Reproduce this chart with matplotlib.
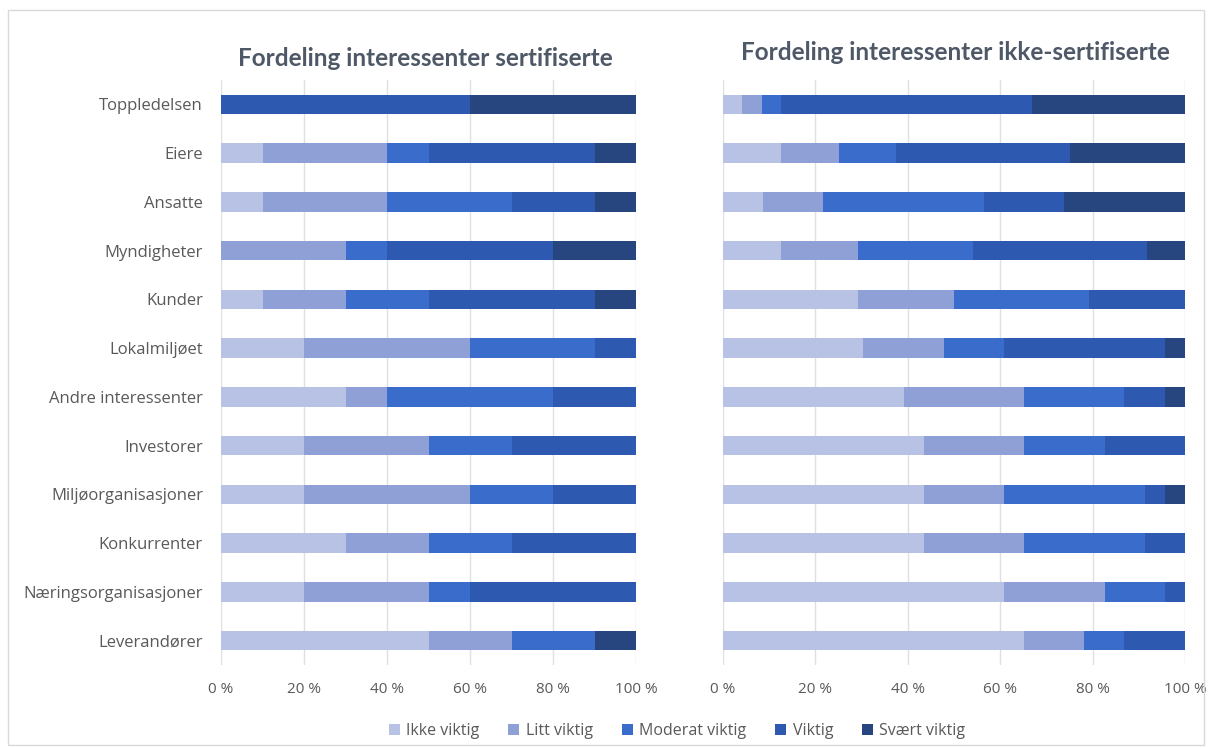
import matplotlib
matplotlib.use("Agg")
import matplotlib.pyplot as plt
from matplotlib.patches import Rectangle, Patch
from matplotlib.ticker import FuncFormatter

plt.rcParams['font.family'] = ['Open Sans', 'DejaVu Sans']

categories = [
    "Toppledelsen", "Eiere", "Ansatte", "Myndigheter", "Kunder", "Lokalmiljøet",
    "Andre interessenter", "Investorer", "Miljøorganisasjoner", "Konkurrenter",
    "Næringsorganisasjoner", "Leverandører",
]
levels = ["Ikke viktig", "Litt viktig", "Moderat viktig", "Viktig", "Svært viktig"]

# Share (%) per importance level, certified companies
cert_ikke     = [0, 10, 10, 0, 10, 20, 30, 20, 20, 30, 20, 50]
cert_litt     = [0, 30, 30, 30, 20, 40, 10, 30, 40, 20, 30, 20]
cert_moderat  = [0, 10, 30, 10, 20, 30, 40, 20, 20, 20, 10, 20]
cert_viktig   = [60, 40, 20, 40, 40, 10, 20, 30, 20, 30, 40, 0]
cert_svaert   = [40, 10, 10, 20, 10, 0, 0, 0, 0, 0, 0, 10]

# Share (%) per importance level, non-certified companies
ikke_ikke     = [4.2, 12.5, 8.7, 12.5, 29.2, 30.4, 39.1, 43.5, 43.5, 43.5, 60.9, 65.2]
ikke_litt     = [4.2, 12.5, 13.0, 16.7, 20.8, 17.4, 26.1, 21.7, 17.4, 21.7, 21.7, 13.0]
ikke_moderat  = [4.2, 12.5, 34.8, 25.0, 29.2, 13.0, 21.7, 17.4, 30.4, 26.1, 13.0, 8.7]
ikke_viktig   = [54.2, 37.5, 17.4, 37.5, 20.8, 34.8, 8.7, 17.4, 4.3, 8.7, 4.3, 13.0]
ikke_svaert   = [33.3, 25.0, 26.1, 8.3, 0, 4.3, 4.3, 0, 4.3, 0, 0, 0]

colors = ["#b7c2e5", "#8fa0d6", "#3a6ccc", "#2e59b0", "#27467f"]
text_color = "#595959"
title_color = "#4e5866"

W, H = 1212, 747
fig = plt.figure(figsize=(W / 100, H / 100), dpi=100)
fig.patch.set_facecolor("white")
fig.add_artist(Rectangle((8 / W, 2 / H), 1196 / W, 735 / H,
                         transform=fig.transFigure, fill=False,
                         edgecolor="#d9d9d9", linewidth=1.0))

ax_l = fig.add_axes([221 / W, 1 - 665 / H, 415 / W, 585 / H])
ax_r = fig.add_axes([723 / W, 1 - 665 / H, 462 / W, 585 / H])

pct = FuncFormatter(lambda v, _: f"{int(v)} %")

def draw(ax, series, show_labels):
    y = list(range(len(categories)))
    left = [0.0] * len(categories)
    for vals, col, name in zip(series, colors, levels):
        ax.barh(y, vals, left=left, height=0.4, color=col, label=name,
                edgecolor="none", zorder=3)
        left = [a + b for a, b in zip(left, vals)]
    ax.set_ylim(len(categories) - 0.5, -0.5)
    ax.set_xlim(0, 100)
    ax.set_xticks([0, 20, 40, 60, 80, 100])
    ax.xaxis.set_major_formatter(pct)
    ax.grid(axis="x", color="#e0e0e0", linewidth=1.0, zorder=0)
    for s in ax.spines.values():
        s.set_visible(False)
    ax.tick_params(axis="both", length=0, colors=text_color)
    ax.tick_params(axis="x", pad=12, labelsize=11)
    ax.set_yticks(y)
    if show_labels:
        ax.set_yticklabels(categories)
        ax.tick_params(axis="y", pad=13, labelsize=12)
    else:
        ax.set_yticklabels([])

draw(ax_l, [cert_ikke, cert_litt, cert_moderat, cert_viktig, cert_svaert], True)
draw(ax_r, [ikke_ikke, ikke_litt, ikke_moderat, ikke_viktig, ikke_svaert], False)

title_font = dict(family=['Lato', 'DejaVu Sans'], fontsize=17.5, fontweight="bold",
                  color=title_color, ha="center", va="center")
fig.text(425 / W, 1 - 59 / H, "Fordeling interessenter sertifiserte", **title_font)
fig.text(955 / W, 1 - 53 / H, "Fordeling interessenter ikke-sertifiserte", **title_font)

handles = [Patch(facecolor=c, edgecolor="none") for c in colors]
fig.legend(handles, levels, loc="center", bbox_to_anchor=(677 / W, 1 - 731 / H),
           ncol=5, frameon=False, fontsize=11.5, handlelength=0.7, handleheight=0.7,
           handletextpad=0.4, columnspacing=1.8, labelcolor=text_color)

fig.savefig("out.png", dpi=100, facecolor="white")
